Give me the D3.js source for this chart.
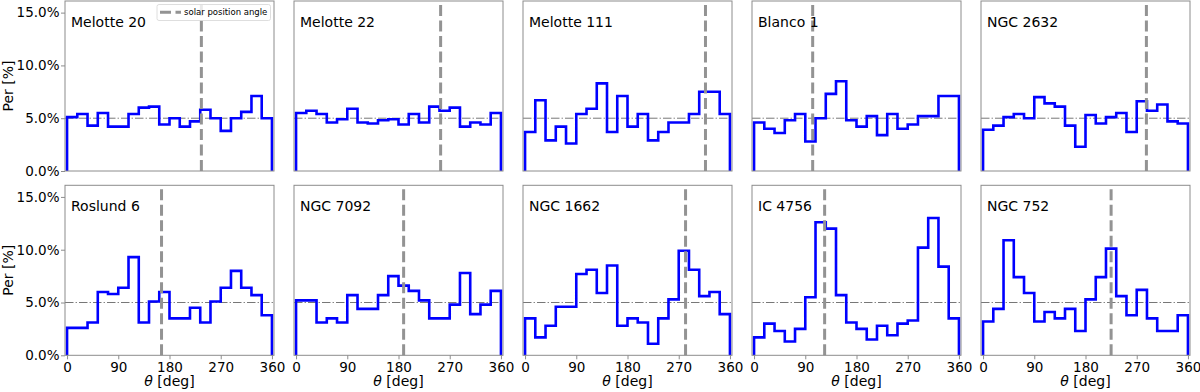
<!DOCTYPE html>
<html>
<head>
<meta charset="utf-8">
<script src="https://cdn.jsdelivr.net/npm/d3@7"></script>
<style>
    body { margin: 0; background: #fff; }
    text { font-family: "DejaVu Sans", sans-serif; }
</style>
</head>
<body>
<div id="d3-container"></div>
<script>
// cluster names, in panel order (row by row)
const clusters = ["Melotte 20", "Melotte 22", "Melotte 111", "Blanco 1", "NGC 2632",
    "Roslund 6", "NGC 7092", "NGC 1662", "IC 4756", "NGC 752"];

// solar position angle for each cluster [deg]
const solarAngle = [236, 254, 317, 103, 287, 166, 189, 282, 124, 225];

// percentage of stars per 18 deg bin
const perMelotte20 = [5.1, 5.4, 4.3, 5.5, 4.2, 4.2, 5.4, 6.0, 6.1, 4.4, 5.0, 4.2, 4.7, 5.8, 5.0, 3.8, 5.0, 5.6, 7.1, 5.0];
const perMelotte22 = [5.5, 5.7, 5.4, 4.6, 4.9, 5.9, 4.6, 4.5, 4.8, 4.9, 4.4, 5.4, 4.6, 6.1, 5.7, 6.0, 4.2, 4.6, 4.4, 5.5];
const perMelotte111 = [3.7, 6.7, 2.9, 4.2, 2.6, 5.4, 5.9, 8.3, 3.7, 7.1, 4.2, 5.4, 2.9, 3.7, 4.6, 4.6, 5.4, 7.5, 7.5, 5.4];
const perBlanco1 = [4.6, 4.0, 3.6, 4.8, 5.4, 2.8, 5.0, 7.3, 8.5, 4.8, 4.2, 5.2, 3.4, 5.4, 4.0, 4.4, 5.2, 5.2, 7.1, 7.1];
const perNGC2632 = [3.9, 4.3, 5.1, 5.4, 5.0, 7.0, 6.4, 6.1, 4.3, 2.3, 5.3, 4.5, 5.1, 5.5, 3.7, 6.6, 5.7, 6.3, 4.7, 4.5];
const perRoslund6 = [2.6, 2.6, 3.1, 6.0, 5.8, 6.4, 9.3, 3.1, 5.1, 6.0, 3.5, 3.5, 4.5, 3.1, 5.1, 6.4, 8.0, 6.4, 5.7, 3.8];
const perNGC7092 = [5.2, 5.2, 3.1, 3.5, 3.1, 5.7, 4.4, 4.4, 5.7, 7.5, 6.6, 6.1, 5.2, 3.5, 3.5, 4.8, 7.8, 3.9, 4.8, 6.1];
const perNGC1662 = [3.5, 1.7, 2.8, 4.6, 4.6, 7.7, 8.1, 5.9, 8.5, 2.8, 3.5, 3.1, 1.1, 3.5, 5.3, 9.9, 8.1, 5.6, 6.0, 3.9];
const perIC4756 = [1.7, 3.0, 2.3, 1.3, 2.5, 5.5, 12.6, 12.0, 5.7, 3.1, 2.5, 1.5, 2.8, 1.9, 3.0, 3.3, 10.2, 13.0, 8.4, 3.5];
const perNGC752 = [3.2, 4.4, 10.9, 7.4, 5.9, 3.2, 4.1, 3.5, 4.4, 2.3, 5.3, 7.4, 10.1, 5.6, 3.8, 6.2, 3.5, 2.3, 2.3, 3.8];

const perValues = [perMelotte20, perMelotte22, perMelotte111, perBlanco1, perNGC2632,
    perRoslund6, perNGC7092, perNGC1662, perIC4756, perNGC752];

const binWidth = 18;
const xTicks = [0, 90, 180, 270, 360];
const yTicks = [0, 5, 10, 15];
const uniformLevel = 5;

const width = 1200;
const height = 392;
const panelWidth = 209;
const panelHeight = 170;
const panelLeft = 65;
const panelStep = 229;
const rowTop = [1, 185.3];
const spineColor = "#8c8c8c";

const svg = d3.select('#d3-container')
    .append('svg')
    .attr('width', width)
    .attr('height', height)
    .attr("viewBox", [0, 0, width, height]);

svg.append("rect").attr("width", width).attr("height", height).attr("fill", "#fff");

clusters.forEach(function (name, i) {
    const col = i % 5;
    const row = Math.floor(i / 5);
    const left = panelLeft + col * panelStep;
    const top = rowTop[row];

    const x = d3.scaleLinear()
        .domain([-3.6, 363.6])
        .range([left, left + panelWidth]);

    const y = d3.scaleLinear()
        .domain([0, 16.1])
        .range([top + panelHeight, top]);

    const g = svg.append("g");

    // uniform 5% reference
    g.append("line")
        .attr("x1", x.range()[0]).attr("x2", x.range()[1])
        .attr("y1", y(uniformLevel)).attr("y2", y(uniformLevel))
        .attr("stroke", "#777")
        .attr("stroke-width", 1)
        .attr("stroke-dasharray", "8.5,2.1,1.3,2.1");

    // step histogram outline
    const values = perValues[i];
    const pts = [[0, 0]];
    values.forEach(function (v, k) {
        pts.push([k * binWidth, v]);
        pts.push([(k + 1) * binWidth, v]);
    });
    pts.push([values.length * binWidth, 0]);

    const line = d3.line().x(d => x(d[0])).y(d => y(d[1]));
    g.append("path")
        .attr("d", line(pts))
        .attr("fill", "none")
        .attr("stroke", "#0000ff")
        .attr("stroke-width", 2.6)
        .attr("stroke-linejoin", "miter");

    // solar position angle
    g.append("line")
        .attr("x1", x(solarAngle[i])).attr("x2", x(solarAngle[i]))
        .attr("y1", y.range()[0]).attr("y2", y.range()[1])
        .attr("stroke", "#939393")
        .attr("stroke-width", 3)
        .attr("stroke-dasharray", "11,4.5");

    // frame
    g.append("rect")
        .attr("x", left).attr("y", top)
        .attr("width", panelWidth).attr("height", panelHeight)
        .attr("fill", "none")
        .attr("stroke", spineColor)
        .attr("stroke-width", 1);

    g.append("text")
        .attr("x", left + 6)
        .attr("y", top + 25.7)
        .attr("font-size", "14px")
        .attr("fill", "#000")
        .text(name);

    if (col === 0) {
        const yAxis = g.append("g")
            .attr("transform", `translate(${left},0)`)
            .call(d3.axisLeft(y).tickValues(yTicks).tickFormat(d => d.toFixed(1) + "%").tickSize(4).tickPadding(1.5));
        yAxis.select(".domain").remove();
        yAxis.selectAll("line").attr("stroke", spineColor);
        yAxis.selectAll("text").attr("font-size", "13.5px").attr("fill", "#000")
            .attr("font-family", "DejaVu Sans");

        g.append("text")
            .attr("transform", `translate(12.5,${top + panelHeight / 2}) rotate(-90)`)
            .attr("text-anchor", "middle")
            .attr("font-size", "14px")
            .text("Per [%]");
    }

    if (row === 1) {
        const xAxis = g.append("g")
            .attr("transform", `translate(0,${top + panelHeight})`)
            .call(d3.axisBottom(x).tickValues(xTicks).tickFormat(d3.format("d")).tickSize(4).tickPadding(3));
        xAxis.select(".domain").remove();
        xAxis.selectAll("line").attr("stroke", spineColor);
        xAxis.selectAll("text").attr("font-size", "13.5px").attr("fill", "#000")
            .attr("font-family", "DejaVu Sans");

        const lab = g.append("text")
            .attr("x", left + panelWidth / 2)
            .attr("y", 386)
            .attr("text-anchor", "middle")
            .attr("font-size", "14px");
        lab.append("tspan").attr("font-style", "italic").text("θ");
        lab.append("tspan").text(" [deg]");
    }
});

// legend in first panel
const legend = svg.append("g");
legend.append("rect")
    .attr("x", 157).attr("y", 4.5)
    .attr("width", 113.5).attr("height", 16)
    .attr("rx", 2)
    .attr("fill", "#fff")
    .attr("fill-opacity", 0.8)
    .attr("stroke", "#d6d6d6")
    .attr("stroke-width", 0.8);
legend.append("line")
    .attr("x1", 160).attr("x2", 181)
    .attr("y1", 12.3).attr("y2", 12.3)
    .attr("stroke", "#939393")
    .attr("stroke-width", 3)
    .attr("stroke-dasharray", "11,4.5");
legend.append("text")
    .attr("x", 184).attr("y", 15.3)
    .attr("font-size", "8.5px")
    .attr("fill", "#000")
    .text("solar position angle");
</script>
</body>
</html>
